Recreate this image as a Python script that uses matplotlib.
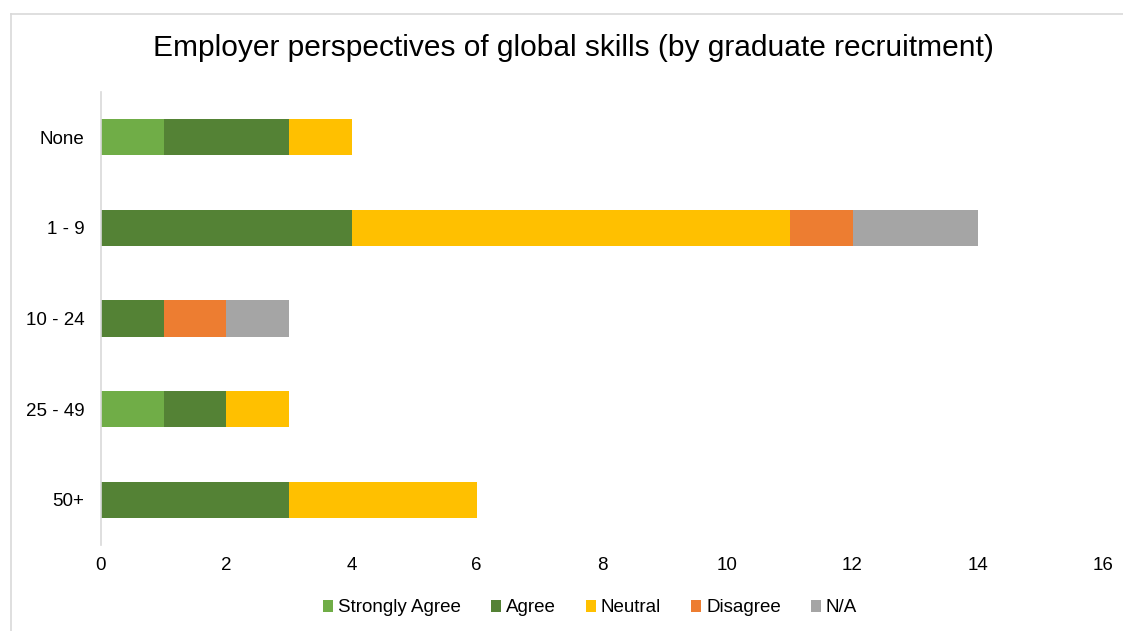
import matplotlib.pyplot as plt
import numpy as np

plt.rcParams['font.family'] = ['Liberation Sans', 'DejaVu Sans']

groups = ['None', '1 - 9', '10 - 24', '25 - 49', '50+']
series = ['Strongly Agree', 'Agree', 'Neutral', 'Disagree', 'N/A']
strongly_agree = [1, 0, 0, 1, 0]
agree = [2, 4, 1, 1, 3]
neutral = [1, 7, 0, 1, 3]
disagree = [0, 1, 1, 0, 0]
not_applicable = [0, 2, 1, 0, 0]
colors = ['#70AD47', '#548235', '#FFC000', '#ED7D31', '#A5A5A5']

fig = plt.figure(figsize=(11.23, 6.31), dpi=100)
ax = fig.add_axes([101/1123, 1 - 545/631, (1103-101)/1123, (545-92)/631])

# chart frame (top and left edges only)
fig.add_artist(plt.Line2D([11/1123, 1], [1 - 14/631, 1 - 14/631], color='#D9D9D9', lw=1.2))
fig.add_artist(plt.Line2D([11/1123, 11/1123], [0, 1 - 14/631], color='#D9D9D9', lw=1.2))

y = np.arange(len(groups))
left = np.zeros(len(groups))
for name, vals, c in zip(series, [strongly_agree, agree, neutral, disagree, not_applicable], colors):
    ax.barh(y, vals, left=left, height=0.4, color=c, label=name)
    left += np.array(vals)

ax.set_ylim(len(groups) - 0.5, -0.5)
ax.set_xlim(0, 16)
ax.set_xticks(range(0, 17, 2))
ax.set_yticks(y)
ax.set_yticklabels(groups)
ax.tick_params(length=0, labelsize=13.5, colors='#000000')
ax.tick_params(axis='x', pad=9)
ax.tick_params(axis='y', pad=12)
for s in ['top', 'right', 'bottom']:
    ax.spines[s].set_visible(False)
ax.spines['left'].set_color('#D9D9D9')
ax.spines['left'].set_linewidth(1.2)

fig.text(573/1123, 1 - 48/631, 'Employer perspectives of global skills (by graduate recruitment)',
         ha='center', va='center', fontsize=21.5)

fig.legend(loc='center', bbox_to_anchor=(590/1123, 1 - 608/631), ncol=5, frameon=False,
           fontsize=13.5, handlelength=0.55, handleheight=0.55, handletextpad=0.25,
           columnspacing=1.6)

fig.savefig('out.png', dpi=100)
